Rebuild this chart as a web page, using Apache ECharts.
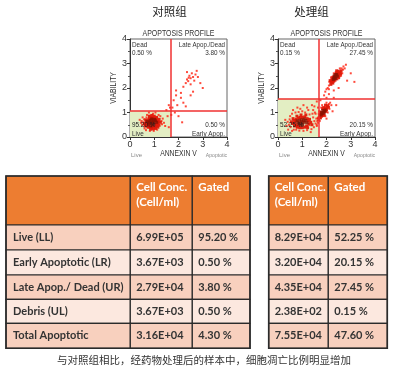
<!DOCTYPE html>
<html><head><meta charset="utf-8">
<script src="https://cdn.jsdelivr.net/npm/echarts@6/dist/echarts.min.js"></script>
<style>html,body{margin:0;padding:0;background:#fff}#c{width:400px;height:374px}</style>
</head><body><div id="c"></div>
<script>
// ---------- data ----------
const axisTicks = [0, 1, 2, 3, 4];
const groupTitles = ['对照组', '处理组'];
const ctrlGate = [1.67, 1.07];   // [annexin threshold, viability threshold]
const treatGate = [1.66, 1.56];
const ctrlQuadPct = ['0.50 %', '3.80 %', '95.20 %', '0.50 %']; // UL, UR, LL, LR
const treatQuadPct = ['0.15 %', '27.45 %', '52.25 %', '20.15 %'];

const ctrlDense = [[0.9,0.6],[0.85,0.55],[0.95,0.65],[0.8,0.62],[1.0,0.58],[0.88,0.7],[0.92,0.5],[0.75,0.57],[1.05,0.66],[0.83,0.68],[0.97,0.53],[0.9,0.74],[0.78,0.49],[1.1,0.6],[0.7,0.64],[0.86,0.45],[1.02,0.72],[0.94,0.61],[0.81,0.59],[0.99,0.69]];
const ctrlMid = [[0.7,0.5],[0.73,0.6],[0.76,0.7],[0.8,0.76],[0.87,0.8],[0.93,0.77],[1.0,0.78],[1.08,0.74],[1.12,0.67],[1.14,0.55],[1.1,0.46],[1.03,0.42],[0.96,0.42],[0.88,0.38],[0.79,0.4],[0.72,0.46],[0.67,0.62],[0.64,0.52],[1.17,0.62],[1.08,0.52],[0.6,0.55],[0.65,0.7],[0.62,0.45],[0.8,0.85],[0.9,0.88],[1.0,0.85],[1.1,0.8],[1.2,0.72],[1.25,0.6],[1.2,0.48],[1.15,0.4],[1.05,0.35],[0.95,0.33],[0.85,0.32],[0.75,0.42]];
const ctrlSparse = [[0.55,0.6],[0.68,0.8],[0.72,0.38],[0.58,0.72],[0.5,0.5],[0.48,0.65],[0.7,0.9],[1.3,0.65],[1.32,0.52],[1.18,0.9],[0.95,0.95],[0.6,0.35],[0.45,0.58],[1.12,0.3],[0.82,0.25],[1.35,0.75],[1.4,0.58],[0.52,0.8],[0.66,0.28],[1.25,0.85],[0.98,0.25],[0.4,0.7],[1.45,0.45],[1.05,1.0],[0.78,1.0],
  [2.3,2.2],[2.35,2.35],[2.4,2.28],[2.45,2.5],[2.5,2.4],[2.55,2.6],[2.6,2.45],[2.2,2.05],[2.7,2.55],[2.75,2.7],[2.5,2.15],[2.65,2.3],[2.8,2.45],[2.1,1.8],[2.6,1.85],[2.9,2.2],[2.35,2.65],[2.42,2.42],
  [1.8,1.5],[1.95,1.3],[2.1,1.6],[1.75,1.2],[2.2,1.4],[2.5,1.7],[1.7,0.9],[1.85,1.0],[2.0,0.85],[2.3,1.25],[1.6,0.4],[1.5,1.1],[1.9,1.9],[2.15,0.6],[3.0,2.0],[1.55,0.85],[1.6,1.3],[1.65,1.2],[1.9,1.7]];

const treatDense = [[0.95,0.62],[1.0,0.58],[1.05,0.66],[0.9,0.55],[0.88,0.68],[1.1,0.6],[0.97,0.7],[1.02,0.5],[0.82,0.6],[1.15,0.68],[0.93,0.48],[1.08,0.73],[0.85,0.52],[1.2,0.58],[0.78,0.66],
  [1.82,0.95],[1.88,1.02],[1.85,1.08],[1.9,0.98],[1.78,0.9],[1.95,1.1],[1.8,1.0],[1.92,1.05],
  [2.3,2.4],[2.35,2.45],[2.4,2.5],[2.32,2.5],[2.38,2.38],[2.42,2.55],[2.28,2.35],[2.45,2.48],[2.36,2.55],[2.33,2.42]];
const treatMid = [[0.7,0.6],[0.72,0.5],[0.75,0.72],[0.8,0.45],[0.85,0.78],[0.92,0.8],[1.0,0.8],[1.1,0.82],[1.2,0.75],[1.25,0.65],[1.28,0.52],[1.18,0.45],[1.1,0.4],[1.0,0.38],[0.9,0.38],[0.8,0.4],[0.65,0.68],[0.68,0.45],[1.3,0.72],[1.35,0.6],[0.6,0.55],[0.62,0.75],[1.15,0.9],[0.95,0.9],[0.78,0.85],[1.22,0.38],[1.4,0.5],[0.55,0.62],
  [1.7,0.8],[1.72,0.88],[1.75,0.78],[1.76,0.95],[1.8,0.85],[1.84,1.15],[1.88,1.2],[1.95,1.18],[1.98,1.05],[2.02,1.2],[2.0,1.12],[1.9,0.9],[1.68,0.72],[2.05,1.28],[1.86,0.88],[1.74,1.02],[1.96,1.3],[2.08,1.22],
  [2.2,2.25],[2.25,2.3],[2.22,2.38],[2.28,2.45],[2.3,2.28],[2.4,2.4],[2.45,2.6],[2.5,2.58],[2.48,2.68],[2.52,2.5],[2.55,2.65],[2.4,2.62],[2.18,2.15],[2.26,2.2],[2.35,2.32],[2.6,2.7],[2.5,2.42],[2.42,2.7],[2.58,2.58],[2.15,2.3]];
const treatSparse = [[0.45,0.5],[0.48,0.72],[0.52,0.4],[0.5,0.85],[0.58,0.95],[0.65,0.3],[0.72,1.0],[0.85,1.02],[1.0,1.05],[1.12,1.0],[1.3,0.92],[1.45,0.8],[1.5,0.65],[1.48,0.4],[1.38,0.32],[1.2,0.28],[1.05,0.25],[0.88,0.26],[0.75,0.3],[0.4,0.62],[1.55,0.55],[1.42,0.95],[0.62,1.1],[0.35,0.45],[1.58,0.75],[0.92,1.15],[1.25,1.1],[0.58,0.25],[1.35,0.2],[0.42,0.3],[1.52,1.0],[0.3,0.7],[0.8,1.2],[1.6,0.45],
  [1.62,0.65],[1.65,0.58],[1.64,0.78],[1.68,0.95],[1.7,1.05],[1.78,1.2],[1.82,1.3],[2.1,1.35],[2.12,1.15],[2.05,1.0],[1.95,0.85],[2.15,1.4],[1.6,0.5],[2.2,1.3],[1.72,0.65],[2.0,1.4],
  [2.05,2.0],[2.1,2.1],[2.0,1.95],[2.12,2.25],[2.1,1.95],[2.62,2.8],[2.68,2.75],[2.7,2.88],[2.65,2.6],[2.55,2.8],[2.75,2.8],[2.2,2.45],[2.3,2.6],[2.6,2.5],[1.95,1.85],[2.45,2.35],[2.8,2.95],[3.15,2.25],
  [1.5,1.25],[1.6,1.45],[1.75,1.5],[2.0,1.6],[2.1,1.75],[1.9,1.7],[2.3,1.9],[2.4,1.3],[2.5,2.0],[1.45,1.1],[1.55,0.95],[2.25,1.05],[1.4,1.3],[3.0,2.6],[2.85,2.3],[2.0,0.75],[1.65,1.2],[2.3,1.6],[1.2,1.2],[1.05,1.3]];

// table
const tableHeader = ['Cell Conc.\n(Cell/ml)', 'Gated'];
const rowLabels = ['Live (LL)', 'Early Apoptotic (LR)', 'Late Apop./ Dead (UR)', 'Debris (UL)', 'Total Apoptotic'];
const ctrlConc = ['6.99E+05', '3.67E+03', '2.79E+04', '3.67E+03', '3.16E+04'];
const ctrlGated = ['95.20 %', '0.50 %', '3.80 %', '0.50 %', '4.30 %'];
const treatConc = ['8.29E+04', '3.20E+04', '4.35E+04', '2.38E+02', '7.55E+04'];
const treatGated = ['52.25 %', '20.15 %', '27.45 %', '0.15 %', '47.60 %'];
const caption = '与对照组相比，经药物处理后的样本中，细胞凋亡比例明显增加';

// ---------- layout ----------
const GR = [{left:130, top:39, width:97, height:98}, {left:278, top:39, width:97, height:98}];
const FONT = '"Liberation Sans", Arial, sans-serif';
const CJK = '"Noto Sans CJK SC", sans-serif';

const chart = echarts.init(document.getElementById('c'), null, {renderer:'canvas'});

function axisX(i){return {gridIndex:i, type:'value', min:0, max:4, interval:1,
  axisLine:{show:true, onZero:false, lineStyle:{color:'#333', width:1}},
  axisTick:{show:true, length:3, lineStyle:{color:'#333'}},
  axisLabel:{fontSize:9, color:'#333', margin:3, fontFamily:FONT, formatter:v=>axisTicks.includes(v)?String(v):''},
  splitLine:{show:false}};}
function axisY(i){return {gridIndex:i, type:'value', min:0, max:4, interval:1,
  axisLine:{show:true, onZero:false, lineStyle:{color:'#333', width:1}},
  axisTick:{show:true, length:3, lineStyle:{color:'#333'}},
  minorTick:{show:true, splitNumber:2, length:2, lineStyle:{color:'#555'}},
  axisLabel:{fontSize:9, color:'#333', margin:3, fontFamily:FONT},
  splitLine:{show:false}};}

function plotSeries(i, gate, sparse, mid, dense){
  return [
    {type:'scatter', xAxisIndex:i, yAxisIndex:i, data:[], silent:true,
      markArea:{silent:true, itemStyle:{color:'#e3eec3'}, data:[[{coord:[0,0]},{coord:[gate[0],gate[1]]}]]},
      markLine:{silent:true, symbol:'none', label:{show:false}, lineStyle:{color:'#f03030', width:1.5, type:'solid'},
        data:[{xAxis:gate[0]},{yAxis:gate[1]}]}},
    {type:'scatter', xAxisIndex:i, yAxisIndex:i, data:sparse, symbol:'rect', symbolSize:2, silent:true,
      itemStyle:{color:'#ff2a1a', opacity:0.85}, z:3},
    {type:'scatter', xAxisIndex:i, yAxisIndex:i, data:mid, symbol:'rect', symbolSize:3, silent:true,
      itemStyle:{color:'#e01808', opacity:0.95}, z:4},
    {type:'scatter', xAxisIndex:i, yAxisIndex:i, data:dense, symbol:'rect', symbolSize:3, silent:true,
      itemStyle:{color:'#8a1000'}, z:5}
  ];
}

// text helper; sx = horizontal squeeze to mimic the narrow original font
function txt(x, y, s, o, sx){return {type:'text', x:x, y:y, scaleX:sx||1, silent:true, z:50,
  style:Object.assign({text:s, fill:'#333', font:'8px '+FONT, textAlign:'left', textVerticalAlign:'middle'}, o||{})};}

const graphics = [];
const Q = {font:'7.5px '+FONT};
[ctrlQuadPct, treatQuadPct].forEach((q, i) => {
  const g = GR[i], L = g.left, R = g.left + g.width, cx = L + g.width/2;
  graphics.push(txt(cx - (i?15:9), 12, groupTitles[i], {font:'11.5px '+CJK, textAlign:'center', fill:'#222'}));
  graphics.push(txt(cx, 33.5, 'APOPTOSIS PROFILE', {font:'8.5px '+FONT, textAlign:'center', fill:'#333'}, 0.82));
  graphics.push(txt(L+2, 45, 'Dead', Q, 0.85));
  graphics.push(txt(L+2, 53, q[0], Q, 0.85));
  graphics.push(txt(R-2, 45, 'Late Apop./Dead', Object.assign({textAlign:'right'}, Q), 0.82));
  graphics.push(txt(R-2, 53, q[1], Object.assign({textAlign:'right'}, Q), 0.85));
  graphics.push(txt(L+2, 125, q[2], Object.assign({fill:'#222'}, Q), 0.85));
  graphics.push(txt(L+2, 133.5, 'Live', Q, 0.85));
  graphics.push(txt(R-2, 125, q[3], Object.assign({textAlign:'right'}, Q), 0.85));
  graphics.push(txt(R-2, 133.5, 'Early Apop.', Object.assign({textAlign:'right'}, Q), 0.85));
  graphics.push(txt(cx, 154, 'ANNEXIN V', {font:'8.5px '+FONT, textAlign:'center'}, 0.8));
  graphics.push(txt(L+6.5, 155, 'Live', {font:'6px '+FONT, textAlign:'center', fill:'#888'}));
  graphics.push(txt(R-10.5, 155, 'Apoptotic', {font:'6px '+FONT, textAlign:'center', fill:'#888'}, 0.85));
  graphics.push({type:'text', x:L-16, y:88, rotation:Math.PI/2, scaleX:0.8, silent:true,
    style:{text:'VIABILITY', fill:'#333', font:'8.5px '+FONT, textAlign:'center', textVerticalAlign:'middle'}});
});

// table
const colX = [6, 130.3, 192.3, 250, 268.7, 328.3, 387.3];
const rowY = [176, 225, 250, 275, 299.3, 323.3, 348.3];
const ORANGE = '#ED7D31', ROW_A = '#F8D0BE', ROW_B = '#FCE8DF', LINE = '#2b2b2b';
const TF = 'Lato, "Open Sans", sans-serif';
function block(x0, x1, y0, y1, fill){
  graphics.push({type:'rect', silent:true, shape:{x:x0, y:y0, width:x1-x0, height:y1-y0},
    style:{fill:fill, stroke:LINE, lineWidth:1.2}});
}
block(colX[0], colX[1], rowY[0], rowY[1], ORANGE);
block(colX[1], colX[2], rowY[0], rowY[1], ORANGE);
block(colX[2], colX[3], rowY[0], rowY[1], ORANGE);
block(colX[4], colX[5], rowY[0], rowY[1], ORANGE);
block(colX[5], colX[6], rowY[0], rowY[1], ORANGE);
[[colX[1], colX[2]], [colX[4], colX[5]]].forEach(([a, b]) => {
  graphics.push(txt(a+6, rowY[0]+11, tableHeader[0].split('\n')[0], {font:'bold 11.5px '+TF, fill:'#fff'}));
  graphics.push(txt(a+6, rowY[0]+26, tableHeader[0].split('\n')[1], {font:'bold 11.5px '+TF, fill:'#fff'}));
  graphics.push(txt(b+6, rowY[0]+11, tableHeader[1], {font:'bold 11.5px '+TF, fill:'#fff'}));
});
rowLabels.forEach((lab, r) => {
  const y0 = rowY[r+1], y1 = rowY[r+2], fill = r % 2 === 0 ? ROW_A : ROW_B, ym = (y0+y1)/2;
  for (let c = 0; c < 6; c++) { if (c === 3) continue; block(colX[c], colX[c+1], y0, y1, fill); }
  const f = {font:'bold 11px '+TF, fill:'#333'};
  graphics.push(txt(colX[0]+7, ym, lab, f));
  graphics.push(txt(colX[1]+6, ym, ctrlConc[r], f));
  graphics.push(txt(colX[2]+6, ym, ctrlGated[r], f));
  graphics.push(txt(colX[4]+6, ym, treatConc[r], f));
  graphics.push(txt(colX[5]+6, ym, treatGated[r], f));
});
graphics.push({type:'rect', silent:true, shape:{x:colX[0], y:rowY[0], width:colX[3]-colX[0], height:rowY[6]-rowY[0]}, style:{fill:null, stroke:LINE, lineWidth:1.6}});
graphics.push({type:'rect', silent:true, shape:{x:colX[4], y:rowY[0], width:colX[6]-colX[4], height:rowY[6]-rowY[0]}, style:{fill:null, stroke:LINE, lineWidth:1.6}});
graphics.push(txt(204, 360, caption, {font:'10.5px '+CJK, textAlign:'center', fill:'#333'}));

chart.setOption({
  animation:false,
  backgroundColor:'#fff',
  grid: GR.map(g => Object.assign({show:true, borderColor:'#666', borderWidth:1, backgroundColor:'transparent'}, g)),
  xAxis:[axisX(0), axisX(1)],
  yAxis:[axisY(0), axisY(1)],
  series:[].concat(plotSeries(0, ctrlGate, ctrlSparse, ctrlMid, ctrlDense),
                   plotSeries(1, treatGate, treatSparse, treatMid, treatDense)),
  graphic: graphics
});
</script></body></html>
